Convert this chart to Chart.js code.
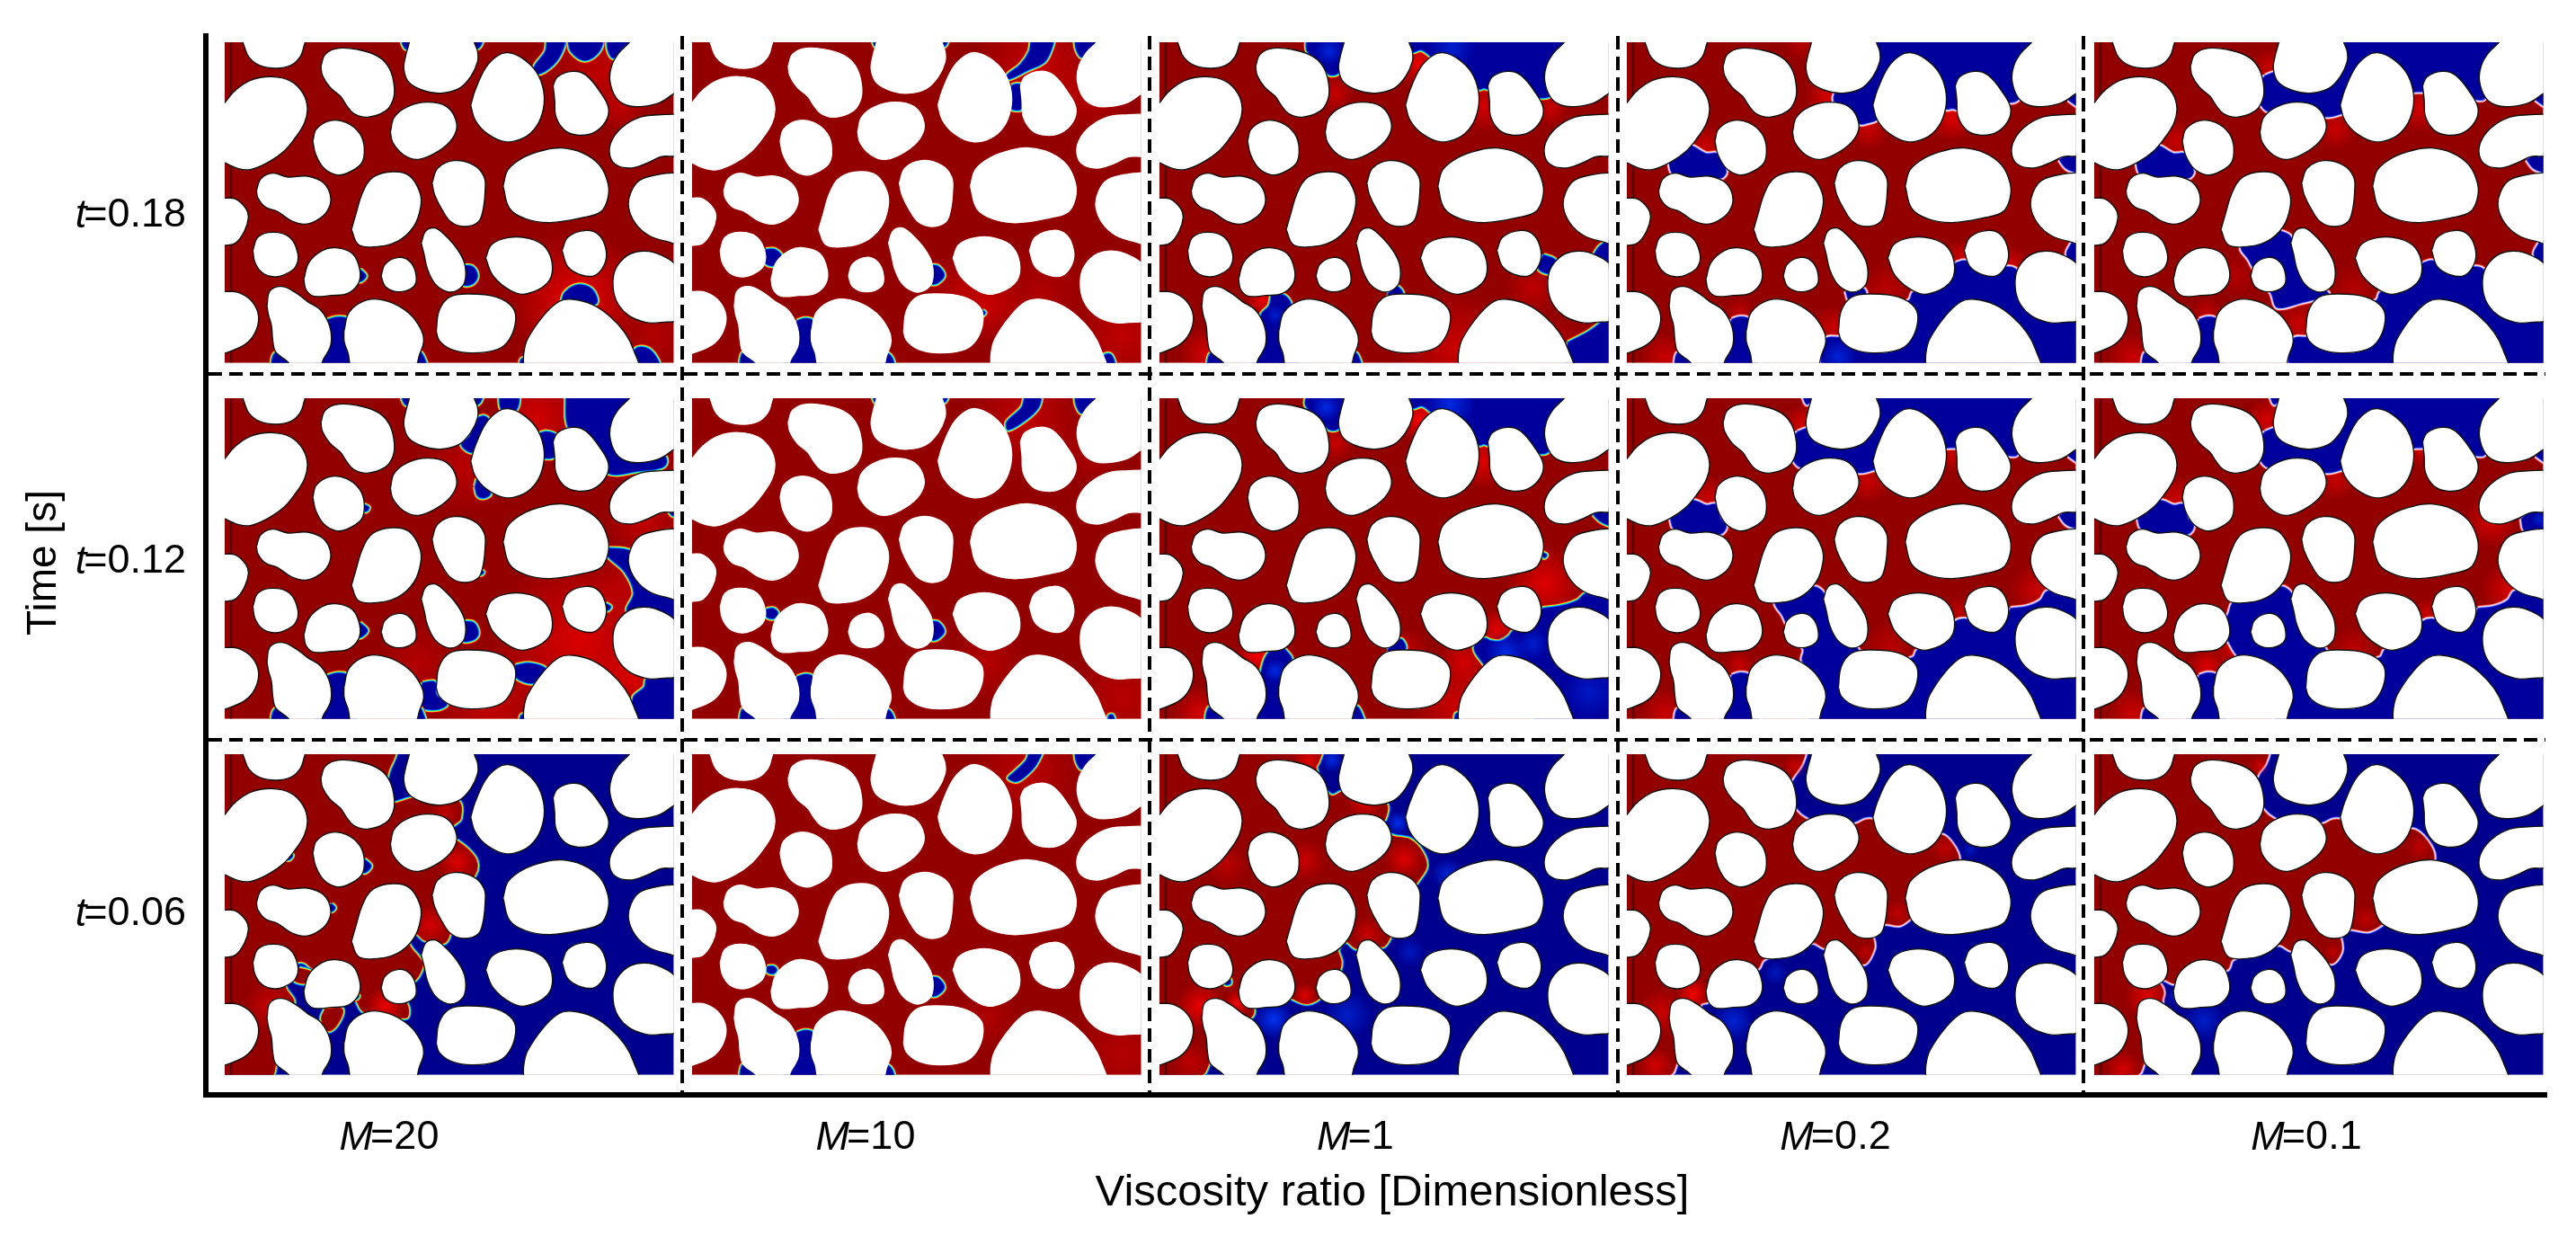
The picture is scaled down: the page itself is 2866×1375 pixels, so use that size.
<!doctype html>
<html>

<head>
	<title>Viscosity ratio panels</title>
	<script src="https://cdn.jsdelivr.net/npm/chart.js@4"></script>
	<style>
		body { margin: 0; background: #fff; }
	</style>
</head>

<body>
	<canvas id="chart-area" width="2866" height="1375"></canvas>
	<script>
		// tick labels
		var viscosityRatios = ['20', '10', '1', '0.2', '0.1'];
		var times = ['0.18', '0.12', '0.06'];

		// solid grains, outline, field units (3 per pixel)
		var grains = [
			[[70,5],[78,30],[95,70],[130,97],[185,107],[235,97],[265,70],[278,35],[280,5]],
			[[0,240],[14,222],[50,180],[100,147],[170,135],[235,150],[275,190],[290,240],[280,290],[245,345],[210,385],[160,420],[100,445],[60,442],[14,422],[0,410]],
			[[335,100],[350,60],[395,40],[470,47],[530,70],[565,110],[580,170],[575,215],[550,250],[490,270],[445,258],[420,230],[400,200],[365,170],[340,130]],
			[[630,5],[630,20],[618,65],[612,110],[630,155],[680,182],[735,190],[795,175],[835,135],[858,85],[858,50],[847,20],[845,5]],
			[[835,230],[850,180],[885,105],[925,65],[960,55],[1010,75],[1055,120],[1078,180],[1078,240],[1055,300],[1010,340],[950,352],[890,325],[850,280]],
			[[1110,165],[1125,135],[1175,117],[1220,130],[1270,190],[1295,240],[1285,285],[1245,322],[1195,330],[1150,315],[1120,270],[1115,210]],
			[[1372,5],[1365,20],[1330,55],[1305,100],[1300,150],[1320,205],[1355,230],[1400,235],[1465,222],[1512,192],[1530,180],[1530,5]],
			[[1530,260],[1470,262],[1400,270],[1345,300],[1310,340],[1298,385],[1315,425],[1365,440],[1420,425],[1470,402],[1530,392]],
			[[1530,455],[1470,460],[1400,480],[1370,520],[1362,570],[1385,625],[1430,665],[1490,685],[1530,688]],
			[[1530,770],[1490,740],[1430,718],[1370,725],[1325,765],[1310,815],[1320,880],[1360,930],[1420,955],[1470,955],[1530,940]],
			[[1012,1110],[1012,1060],[1025,1010],[1080,930],[1130,885],[1175,878],[1240,895],[1300,935],[1350,990],[1380,1050],[1390,1110]],
			[[943,500],[960,445],[1010,405],[1080,380],[1140,373],[1210,390],[1265,430],[1293,490],[1293,540],[1270,585],[1210,605],[1100,622],[1020,610],[965,575]],
			[[567,320],[580,270],[625,235],[690,220],[755,235],[788,290],[775,340],[725,385],[660,411],[610,395],[575,355]],
			[[308,350],[320,310],[365,282],[420,288],[465,325],[480,375],[470,425],[420,458],[385,462],[345,440],[318,395]],
			[[120,515],[135,475],[175,457],[225,470],[290,467],[345,490],[368,540],[355,585],[320,615],[280,627],[235,615],[190,585],[150,570],[125,540]],
			[[0,540],[14,540],[50,543],[85,575],[93,605],[80,650],[50,690],[14,698],[0,698]],
			[[437,645],[450,600],[475,520],[510,470],[575,452],[630,465],[665,520],[668,570],[645,635],[590,685],[510,703],[460,695]],
			[[706,490],[725,440],[780,415],[845,430],[880,470],[883,520],[875,585],[860,620],[815,635],[770,620],[740,580],[715,530]],
			[[108,715],[125,670],[175,654],[230,670],[258,725],[250,770],[215,795],[180,803],[140,790],[115,755]],
			[[278,810],[295,755],[340,715],[385,706],[440,725],[465,780],[460,825],[425,858],[370,865],[310,867],[285,845]],
			[[536,800],[550,760],[595,738],[635,755],[653,800],[645,835],[595,853],[550,835]],
			[[670,690],[685,650],[715,640],[745,660],[790,710],[815,760],[815,820],[790,848],[755,852],[715,825],[690,775],[680,730]],
			[[885,740],[905,695],[960,672],[1030,675],[1085,705],[1108,770],[1090,825],[1020,860],[970,850],[910,800]],
			[[1140,715],[1160,670],[1220,648],[1265,665],[1287,715],[1282,760],[1250,798],[1205,797],[1160,770]],
			[[0,852],[14,852],[60,855],[105,885],[127,935],[115,990],[80,1030],[14,1058],[0,1060]],
			[[155,900],[165,850],[205,835],[250,855],[290,885],[335,915],[365,970],[368,1030],[345,1075],[325,1110],[232,1110],[228,1090],[185,1055],[175,1020],[170,965],[160,930]],
			[[412,985],[430,920],[490,880],[560,885],[630,925],[670,980],[678,1020],[665,1060],[642,1110],[445,1110],[425,1055],[413,1020]],
			[[720,985],[730,915],[765,870],[830,860],[920,870],[975,905],[985,950],[965,1010],[925,1045],[840,1057],[770,1045],[730,1015]]
		];

		// fronts between the two fluids. red/blue = regions of that fluid, glow = [x, y, radius, 'r'|'b', strength]
		var m20 = [
			{
				red: [],
				blue: [
					[[605,10],[610,30],[620,42],[630,35],[635,10]],
					[[845,10],[855,40],[868,30],[872,10]],
					[[1090,10],[1085,50],[1048,103],[1060,125],[1110,95],[1140,50],[1146,10]],
					[[1160,10],[1170,50],[1215,80],[1260,55],[1272,10]],
					[[1290,10],[1295,50],[1312,72],[1340,40],[1370,10]],
					[[465,778],[485,800],[465,818],[450,800]],
					[[815,765],[842,770],[857,800],[842,825],[812,828]],
					[[1138,890],[1150,855],[1195,830],[1240,845],[1255,890],[1195,900]],
					[[358,946],[390,938],[422,946],[450,1110],[320,1110]],
					[[170,1110],[175,1070],[190,1055],[235,1100],[235,1110]],
					[[642,1110],[665,1055],[682,1080],[687,1110]],
					[[998,1110],[1003,1080],[1015,1076],[1020,1110]],
					[[1385,1110],[1385,1045],[1420,1040],[1450,1065],[1465,1110]]
				],
				glow: [[1190,880,230,'r',.75],[1270,120,190,'r',.4],[1340,240,90,'r',.3],[1450,1000,120,'r',.3]]
			},
			{
				red: [],
				blue: [
					[[605,10],[610,30],[620,42],[630,35],[635,10]],
					[[845,10],[855,40],[868,30],[872,10]],
					[[930,10],[940,60],[985,60],[992,10]],
					[[1153,10],[1163,120],[1250,200],[1295,270],[1400,262],[1470,252],[1488,235],[1480,212],[1400,200],[1350,100],[1400,10]],
					[[860,85],[880,80],[895,95],[860,170],[838,200],[805,175],[830,150]],
					[[1065,138],[1090,132],[1120,145],[1118,212],[1065,212]],
					[[850,315],[858,345],[880,352],[900,338],[860,290]],
					[[478,375],[495,385],[486,397],[476,392]],
					[[864,594],[878,600],[870,608],[862,605]],
					[[1285,705],[1302,716],[1292,727]],
					[[465,770],[490,795],[465,818],[450,800]],
					[[815,765],[845,770],[860,805],[845,825],[810,828]],
					[[1290,520],[1370,532],[1420,600],[1530,680],[1530,775],[1400,730],[1357,728],[1380,670],[1350,600],[1292,545]],
					[[1530,940],[1425,955],[1415,985],[1378,1020],[1390,1110],[1530,1110]],
					[[985,912],[1030,905],[1085,925],[1045,970],[985,950]],
					[[675,970],[715,968],[720,1010],[755,1040],[725,1058],[672,1050],[670,1000]],
					[[1495,395],[1510,412],[1520,400]],
					[[358,946],[390,938],[422,946],[450,1110],[320,1110]],
					[[170,1110],[175,1070],[190,1055],[235,1100],[235,1110]],
					[[642,1110],[665,1055],[682,1090],[687,1110]],
					[[998,1110],[1003,1080],[1015,1076],[1020,1110]]
				],
				glow: [[1200,830,300,'r',.65],[1060,80,170,'r',.55],[1380,950,130,'r',.6],[820,250,160,'r',.35],[1410,430,130,'r',.45],[900,1040,200,'r',.45],[660,900,140,'r',.3],[1360,640,130,'r',.25]]
			},
			{
				red: [
					[[-10,8],[576,8],[559,80],[536,190],[585,184],[651,166],[735,179],[796,179],[801,234],[781,253],[735,289],[791,311],[842,355],[857,388],[850,420],[791,508],[762,629],[742,651],[681,640],[651,618],[628,651],[674,717],[666,750],[651,772],[597,816],[620,849],[628,877],[620,899],[536,893],[475,877],[451,838],[367,761],[306,734],[283,715],[260,712],[214,739],[217,800],[245,849],[200,950],[184,1052],[168,1096],[-10,1100]],
					[[263,734],[306,750],[283,783],[245,772]],
					[[349,871],[406,871],[390,921],[360,943],[337,904]]
				],
				blue: [
					[[226,344],[240,358],[226,372],[212,358]],
					[[480,371],[502,393],[480,415],[470,393]],
					[[370,520],[382,532],[370,544],[358,532]],
					[[451,817],[461,827],[451,837],[441,827]]
				],
				glow: [[750,210,50,'r',.4],[790,380,65,'r',.7],[700,590,70,'r',.6],[550,860,65,'r',.8],[170,860,90,'r',.5]]
			}
		];

		var m10Top = [[1146,10],[1140,50],[1110,95],[1066,130],[1072,142],[1130,115],[1190,85],[1212,45],[1217,10]];
		var m10Low = [
			[[815,765],[835,768],[855,798],[835,822],[815,825]],
			[[365,950],[390,942],[416,950],[450,1110],[325,1110]],
			[[172,1110],[180,1062],[192,1055],[232,1110]],
			[[645,1110],[665,1060],[682,1075],[687,1110]],
			[[618,15],[625,33],[632,15]],
			[[852,15],[857,33],[866,15]],
			[[1292,10],[1297,45],[1315,70],[1345,45],[1370,10]]
		];
		var m10 = [
			{
				red: [],
				blue: [m10Top, [[1080,165],[1098,160],[1115,165],[1115,240],[1080,240]], [[260,712],[290,712],[312,735],[285,765],[258,755]], [[1390,1110],[1390,1065],[1410,1062],[1423,1085],[1425,1110]], [[983,915],[992,922],[985,930]]].concat(m10Low),
				glow: [[1170,100,220,'r',.45],[1000,900,130,'r',.5],[1450,1000,180,'r',.4],[1350,200,130,'r',.3],[900,840,120,'r',.3],[1180,860,170,'r',.25]]
			},
			{
				red: [],
				blue: [[[1125,10],[1115,50],[1065,100],[1070,125],[1130,90],[1170,50],[1175,10]], [[262,725],[285,722],[300,738],[285,755],[262,748]], [[1405,1110],[1405,1080],[1418,1078],[1425,1110]]].concat(m10Low),
				glow: [[1130,90,200,'r',.4],[1450,1020,170,'r',.35],[1000,900,130,'r',.3],[1350,200,110,'r',.25]]
			},
			{
				red: [],
				blue: [[[1140,10],[1130,40],[1090,80],[1070,100],[1100,110],[1150,70],[1170,40],[1180,10]], [[265,730],[285,728],[296,740],[285,752],[265,746]]].concat(m10Low.slice(0, 4), m10Low.slice(6)),
				glow: [[1130,80,190,'r',.35],[1450,1020,170,'r',.3],[1000,900,110,'r',.25]]
			}
		];

		var m1 = [
			{
				red: [],
				blue: [
					[[505,10],[508,50],[560,100],[582,128],[612,120],[640,10]],
					[[850,10],[855,52],[888,45],[925,70],[1000,120],[1082,176],[1097,172],[1114,176],[1180,150],[1260,200],[1290,205],[1316,198],[1340,100],[1400,10]],
					[[1465,728],[1485,700],[1520,685],[1530,780],[1470,735]],
					[[1296,730],[1335,748],[1318,790],[1280,775]],
					[[389,860],[380,900],[354,930],[330,1110],[480,1110],[420,960],[452,897],[430,865]],
					[[776,860],[800,840],[812,838],[825,860],[790,880]],
					[[172,1110],[180,1065],[195,1055],[235,1110]],
					[[640,1110],[668,1058],[684,1085],[686,1110]],
					[[1378,1022],[1440,990],[1530,940],[1530,1110],[1370,1110]]
				],
				glow: [[880,90,80,'r',.8],[1095,230,90,'r',.6],[360,880,60,'r',.8],[170,1060,90,'r',.6],[1000,1040,190,'r',.5],[1340,1030,90,'r',.3],[600,190,60,'r',.5],[1260,840,90,'r',.4],[1320,240,60,'r',.5],[990,40,80,'b',.5],[580,50,50,'b',.6],[400,930,35,'b',.5]]
			},
			{
				red: [],
				blue: [
					[[505,10],[503,45],[560,100],[583,125],[612,118],[635,10]],
					[[850,10],[860,52],[890,45],[920,65],[1000,120],[1082,176],[1097,172],[1112,176],[1180,150],[1260,195],[1290,205],[1313,195],[1340,100],[1400,10]],
					[[1462,408],[1490,395],[1530,385],[1530,445],[1510,442],[1485,430]],
					[[1291,535],[1306,543],[1298,552]],
					[[1293,722],[1360,712],[1410,695],[1438,672],[1530,680],[1530,1110],[1300,1110],[1100,915],[1100,912],[1065,855],[1098,822],[1120,830],[1150,832],[1180,815],[1195,797],[1250,780]],
					[[775,860],[795,845],[820,825],[835,855],[800,875]],
					[[432,858],[380,868],[355,930],[330,1110],[445,1110],[425,1000],[455,892]],
					[[168,1110],[172,1070],[182,1053],[235,1110]],
					[[645,1110],[672,1050],[695,1090],[695,1110]],
					[[998,1110],[1003,1075],[1015,1072],[1020,1110]]
				],
				glow: [[880,90,70,'r',.9],[1095,230,90,'r',.7],[340,880,70,'r',.9],[150,1070,90,'r',.6],[1030,900,90,'r',.6],[1300,640,130,'r',.7],[1140,790,70,'r',.7],[1000,1040,150,'r',.5],[840,860,70,'r',.4],[600,170,60,'r',.5],[1170,870,70,'b',.7],[985,40,85,'b',.7],[570,50,50,'b',.7],[400,930,40,'b',.7],[1260,840,55,'b',.5],[1450,1000,90,'b',.4]]
			},
			{
				red: [
					[[-10,8],[551,8],[545,45],[536,65],[560,130],[590,160],[628,145],[680,160],[770,185],[767,235],[740,260],[792,293],[850,305],[890,345],[905,395],[875,445],[820,520],[783,632],[760,662],[720,650],[672,668],[636,645],[610,672],[620,710],[616,740],[590,790],[547,835],[505,852],[458,835],[400,800],[300,830],[328,870],[320,897],[270,900],[200,1000],[180,1048],[155,1090],[-10,1100]]
				],
				blue: [[[233,772],[248,770],[250,785],[235,788]]],
				glow: [[830,370,65,'r',.7],[710,620,55,'r',.5],[700,175,60,'r',.8],[500,825,40,'r',.7],[500,375,70,'r',.5],[240,390,70,'r',.35],[150,860,80,'r',.8],[275,850,45,'r',.9],[120,1050,70,'r',.4],[510,40,50,'r',.7],[395,905,65,'b',.85],[640,890,85,'b',.5],[810,250,40,'b',.8],[975,420,55,'b',.6],[850,680,50,'b',.4],[590,40,40,'b',.7]]
			}
		];

		var topTips = [[[1488,212],[1505,195],[1530,190],[1530,240],[1510,228]], [[1458,412],[1485,397],[1530,390],[1530,450],[1510,452],[1480,440]]];
		var bottomStart = [[[172,1110],[180,1062],[195,1055],[235,1110]], [[365,945],[392,937],[420,945],[450,1110],[325,1110]]];
		var upperLeft = [[155,420],[190,380],[225,365],[278,392],[315,392],[330,420],[345,452],[330,472],[250,480],[168,458]];
		var topM01 = [[585,132],[612,122],[700,100],[850,10],[1400,10],[1340,100],[1318,205],[1298,212],[1200,190],[1115,185],[1085,185],[1000,200],[838,258],[795,268],[700,260],[595,250],[572,230],[550,180]];
		var lowerRight = [[1112,757],[1145,750],[1200,780],[1285,770],[1315,782],[1350,900],[1450,955],[1530,940],[1530,1110],[680,1110],[680,1010],[720,1005],[800,1000],[958,880],[970,855],[1040,840]];

		var m02 = [
			{
				red: [],
				blue: [
					[[850,10],[780,150],[712,188],[708,220],[760,260],[792,292],[820,288],[845,280],[960,200],[1082,243],[1100,240],[1118,243],[1200,200],[1295,220],[1322,207],[1340,100],[1400,10]],
					upperLeft, lowerRight,
					[[1500,688],[1530,680],[1530,770],[1483,730]],
					[[745,850],[770,848],[803,843],[810,860],[760,885]]
				].concat(topTips, bottomStart),
				glow: [[1100,270,80,'r',.7],[680,200,70,'r',.6],[820,310,70,'r',.5],[280,365,70,'r',.5],[140,1070,80,'r',.5],[390,920,50,'r',.4],[700,970,70,'r',.5],[1130,730,50,'r',.5],[1300,750,50,'r',.5],[880,840,90,'r',.35],[600,20,60,'r',.35],[720,1070,60,'b',.6]]
			},
			{
				red: [],
				blue: [
					[[585,132],[612,122],[700,100],[850,10],[1400,10],[1340,100],[1318,205],[1298,212],[1200,190],[1115,185],[1085,185],[1000,200],[838,258],[795,268],[700,260],[595,250],[572,230],[550,180]],
					[[160,422],[195,385],[235,362],[280,378],[310,375],[325,420],[345,447],[328,472],[250,480],[172,455]],
					[[1295,722],[1350,715],[1395,695],[1418,665],[1530,680],[1530,1110],[640,1110],[640,950],[600,895],[605,858],[560,800],[535,745],[510,705],[540,690],[635,650],[670,670],[700,750],[760,840],[783,855],[790,865],[900,900],[970,885],[985,860],[1060,820],[1112,765],[1145,758],[1220,780],[1250,790],[1280,760]],
					[[600,10],[615,40],[635,10]]
				].concat(topTips, bottomStart),
				glow: [[1380,660,90,'r',.5],[290,350,70,'r',.5],[140,1070,80,'r',.5],[820,300,70,'r',.5],[1100,210,60,'r',.5],[600,100,60,'r',.6],[390,910,50,'r',.5],[890,850,90,'r',.35],[1125,730,50,'r',.4]]
			},
			{
				red: [
					[[-10,8],[603,8],[598,50],[568,95],[540,150],[580,212],[608,235],[700,280],[785,252],[810,240],[835,240],[950,300],[1065,290],[1100,320],[1122,370],[1100,500],[965,565],[925,590],[875,585],[815,600],[835,635],[838,670],[805,720],[750,680],[670,665],[635,648],[560,670],[470,705],[452,735],[370,780],[285,845],[262,852],[255,870],[240,900],[200,1000],[180,1050],[158,1090],[-10,1100]]
				],
				blue: [],
				glow: [[235,820,55,'r',.9],[130,880,80,'r',.5],[110,1060,60,'r',.6],[1075,335,45,'r',.4],[920,550,45,'r',.4],[810,680,30,'r',.4],[575,60,40,'r',.5],[370,910,70,'b',.6],[1160,340,30,'b',.4],[510,750,40,'b',.4]]
			}
		];

		var m01 = [
			{
				red: [],
				blue: [
					topM01, upperLeft, lowerRight,
					[[1500,688],[1530,680],[1530,770],[1483,730]],
					[[635,650],[668,668],[720,780],[782,845],[795,862],[700,890],[625,905],[605,858],[560,800],[530,745],[505,705],[560,680]]
				].concat(topTips, bottomStart),
				glow: [[1100,240,80,'r',.6],[820,310,70,'r',.5],[290,350,70,'r',.5],[140,1070,80,'r',.5],[700,960,80,'r',.5],[390,920,50,'r',.4],[490,800,70,'r',.3],[880,840,80,'r',.3],[600,100,60,'r',.5]]
			},
			{
				red: [],
				blue: [
					topM01,
					[[160,422],[195,385],[235,362],[280,378],[310,375],[325,420],[345,447],[328,472],[250,480],[172,455]],
					[[1295,722],[1350,715],[1395,695],[1418,665],[1530,680],[1530,1110],[640,1110],[600,950],[493,878],[462,830],[440,800],[465,735],[475,705],[500,690],[635,650],[670,670],[700,750],[760,840],[783,855],[790,865],[900,900],[970,885],[985,860],[1060,820],[1112,765],[1145,758],[1220,780],[1250,790],[1280,760]],
					[[600,10],[615,40],[635,10]],
					[[1488,212],[1505,195],[1530,190],[1530,240],[1510,228]],
					[[1440,422],[1480,395],[1530,390],[1530,455],[1452,462]]
				].concat(bottomStart),
				glow: [[1400,660,100,'r',.6],[1340,430,90,'r',.6],[290,350,70,'r',.5],[140,1070,80,'r',.5],[820,290,70,'r',.5],[590,90,70,'r',.6],[470,860,60,'r',.5],[390,915,60,'r',.7],[880,860,80,'r',.4],[1125,735,50,'r',.5],[1100,200,50,'r',.5],[1500,425,30,'b',.5]]
			},
			{
				red: [
					[[-10,8],[590,8],[585,50],[560,85],[540,150],[582,212],[610,235],[700,280],[785,252],[810,240],[835,240],[950,300],[1075,272],[1125,310],[1148,368],[1100,500],[978,585],[930,610],[872,602],[815,600],[835,635],[838,680],[805,718],[750,680],[672,675],[632,655],[560,670],[475,705],[458,738],[370,760],[282,785],[250,772],[200,760],[235,790],[245,815],[240,840],[240,900],[200,1000],[180,1050],[158,1090],[-10,1100]]
				],
				blue: [],
				glow: [[190,830,75,'r',.7],[110,1070,60,'r',.6],[1100,330,45,'r',.4],[920,570,45,'r',.4],[810,680,30,'r',.4],[565,60,35,'r',.5],[380,910,70,'b',.5],[280,830,25,'b',.5]]
			}
		];

		var fronts = [m20, m10, m1, m02, m01];

		// field units -> x/y axis units
		var colStart = [21, 541, 1061, 1581, 2101];
		var rowStart = [7, 403, 799];
		var fieldLeft = 14, fieldTop = 20, fieldRight = 1513, fieldBottom = 1090;

		var darkRed = '#930000', darkBlue = '#00008f';
		var rainbow = ['#ff0000', '#ffd400', '#44ff88', '#00c4ff', '#0030ff'];
		var whitish = ['#ff3030', '#ffb8b8', '#eeeef8', '#a8a8ff', '#2830ff'];
		var bandWidths = [6.8, 5.4, 4, 2.7, 1.3];

		function toPoints(c, r, shape) {
			var pts = shape.map(function (p) {
				return { x: colStart[c] + (p[0] - fieldLeft) / 3, y: rowStart[r] + (p[1] - fieldTop) / 3 };
			});
			pts.push(pts[0]);
			return pts;
		}

		function closedShape(c, r, shape, color, tension) {
			return {
				data: toPoints(c, r, shape), panel: [c, r], showLine: true, pointRadius: 0, tension: tension,
				fill: 'shape', backgroundColor: color, borderWidth: 0
			};
		}

		function addFront(list, c, r, shape, palette, fillColor) {
			palette.forEach(function (color, i) {
				list.push({
					data: toPoints(c, r, shape), panel: [c, r], showLine: true, pointRadius: 0, tension: 0.35,
					fill: false, borderColor: color, borderWidth: bandWidths[i], borderJoinStyle: 'round'
				});
			});
			list.push(closedShape(c, r, shape, fillColor, 0.35));
		}

		function glowSet(c, r, g) {
			var rgb = g[3] === 'r' ? '255,0,0' : '0,60,255';
			return {
				type: 'bubble', panel: [c, r],
				data: [{ x: colStart[c] + (g[0] - fieldLeft) / 3, y: rowStart[r] + (g[1] - fieldTop) / 3, r: g[2] / 3 }],
				borderWidth: 0,
				backgroundColor: function (ctx) {
					var raw = ctx.raw;
					if (!raw) return 'rgba(0,0,0,0)';
					var px = ctx.chart.scales.x.getPixelForValue(raw.x), py = ctx.chart.scales.y.getPixelForValue(raw.y);
					if (!isFinite(px) || !isFinite(py)) return 'rgba(0,0,0,0)';
					var grad = ctx.chart.ctx.createRadialGradient(px, py, 0, px, py, raw.r);
					grad.addColorStop(0, 'rgba(' + rgb + ',' + g[4] + ')');
					grad.addColorStop(1, 'rgba(' + rgb + ',0)');
					return grad;
				}
			};
		}

		var datasets = [];
		fronts.forEach(function (column, c) {
			column.forEach(function (panel, r) {
				var baseIsBlue = panel.red.length > 0;
				var box = [[fieldLeft, fieldTop], [fieldRight, fieldTop], [fieldRight, fieldBottom], [fieldLeft, fieldBottom]];
				var palette = c >= 3 ? whitish : rainbow;
				datasets.push(closedShape(c, r, box, baseIsBlue ? darkBlue : darkRed, 0));
				panel.glow.forEach(function (g) {
					if ((g[3] === 'b') === baseIsBlue) datasets.push(glowSet(c, r, g));
				});
				panel.red.forEach(function (shape) {
					addFront(datasets, c, r, shape, palette.slice().reverse(), darkRed);
				});
				panel.blue.forEach(function (shape) {
					addFront(datasets, c, r, shape, palette, '#00009c');
				});
				panel.glow.forEach(function (g) {
					if ((g[3] === 'b') !== baseIsBlue) datasets.push(glowSet(c, r, g));
				});
				if (c !== 1) {
					datasets.push({
						data: toPoints(c, r, [[36, fieldTop], [36, fieldBottom]]).slice(0, 2), panel: [c, r],
						showLine: true, pointRadius: 0, borderColor: '#111', borderWidth: 1.5, fill: false
					});
				}
				grains.forEach(function (shape) {
					var set = closedShape(c, r, shape, '#fff', 0.38);
					set.borderColor = c === 1 ? '#fff' : '#111';
					set.borderWidth = 1.4;
					datasets.push(set);
				});
			});
		});
		// chart.js paints the last dataset first
		datasets.reverse();

		// every dataset stays inside its own panel; has to run before the filler does
		var panelClip = {
			id: 'panelClip',
			beforeDatasetDraw: function (chart, args) {
				var ds = chart.data.datasets[args.index], p = ds.panel;
				var x0 = chart.scales.x.getPixelForValue(colStart[p[0]]);
				var x1 = chart.scales.x.getPixelForValue(colStart[p[0]] + (fieldRight - fieldLeft) / 3);
				var y0 = chart.scales.y.getPixelForValue(rowStart[p[1]]);
				var y1 = chart.scales.y.getPixelForValue(rowStart[p[1]] + (fieldBottom - fieldTop) / 3);
				chart.ctx.save();
				chart.ctx.beginPath();
				chart.ctx.rect(x0, y0, x1 - x0, y1 - y0);
				chart.ctx.clip();
			},
			afterDatasetDraw: function (chart) {
				chart.ctx.restore();
			}
		};
		var filler = Chart.registry.getPlugin('filler');
		Chart.unregister(filler);
		Chart.register(panelClip, filler);

		var font = '"Liberation Sans", Arial, sans-serif';
		var labelX = [204, 734, 1279, 1813, 2337];
		var labelY = [200, 585, 977];
		var mixedLabels = {
			id: 'mixedLabels',
			afterDraw: function (chart) {
				var ctx = chart.ctx, xs = chart.scales.x, ys = chart.scales.y;
				function mixed(letter, rest, x, y, align) {
					ctx.font = 'italic 45px ' + font;
					var w1 = ctx.measureText(letter).width - 3;
					ctx.font = '45px ' + font;
					var w2 = ctx.measureText(rest).width;
					var left = align === 'right' ? x - w1 - w2 : x - (w1 + w2) / 2;
					ctx.textAlign = 'left';
					ctx.textBaseline = 'middle';
					ctx.fillStyle = '#000';
					ctx.font = 'italic 45px ' + font;
					ctx.fillText(letter, left, y);
					ctx.font = '45px ' + font;
					ctx.fillText(rest, left + w1, y);
				}
				ctx.save();
				viscosityRatios.forEach(function (m, i) {
					mixed('M', '=' + m, xs.getPixelForValue(labelX[i]), 1266, 'center');
				});
				times.forEach(function (t, i) {
					mixed('t', '=' + t, 207, ys.getPixelForValue(labelY[i]), 'right');
				});
				ctx.font = '49px ' + font;
				ctx.textAlign = 'center';
				ctx.fillText('Viscosity ratio [Dimensionless]', 1549, 1327);
				ctx.font = '46px ' + font;
				ctx.translate(49, 626);
				ctx.rotate(-Math.PI / 2);
				ctx.fillText('Time [s]', 0, 0);
				ctx.restore();
			}
		};

		var separatorsX = [530, 1050, 1571, 2089];
		var separatorsY = [376, 783];

		window.onload = function () {
			new Chart(document.getElementById('chart-area').getContext('2d'), {
				type: 'scatter',
				data: { datasets: datasets },
				plugins: [mixedLabels],
				options: {
					responsive: false,
					animation: false,
					devicePixelRatio: 1,
					layout: { autoPadding: false, padding: { left: 229, right: 34, top: 40, bottom: 157 } },
					plugins: { legend: { display: false }, tooltip: { enabled: false }, title: { display: false } },
					events: [],
					scales: {
						x: {
							type: 'linear', min: 0, max: 2603,
							afterBuildTicks: function (axis) { axis.ticks = separatorsX.map(function (v) { return { value: v }; }); },
							ticks: { display: false },
							grid: { color: '#000', lineWidth: 4, drawTicks: false },
							border: { display: true, color: '#000', width: 6, dash: [15, 8] }
						},
						y: {
							type: 'linear', min: 0, max: 1178, reverse: true,
							afterBuildTicks: function (axis) { axis.ticks = separatorsY.map(function (v) { return { value: v }; }); },
							ticks: { display: false },
							grid: { color: '#000', lineWidth: 4, drawTicks: false },
							border: { display: true, color: '#000', width: 6, dash: [15, 8] }
						}
					}
				}
			});
		};
	</script>
</body>

</html>
